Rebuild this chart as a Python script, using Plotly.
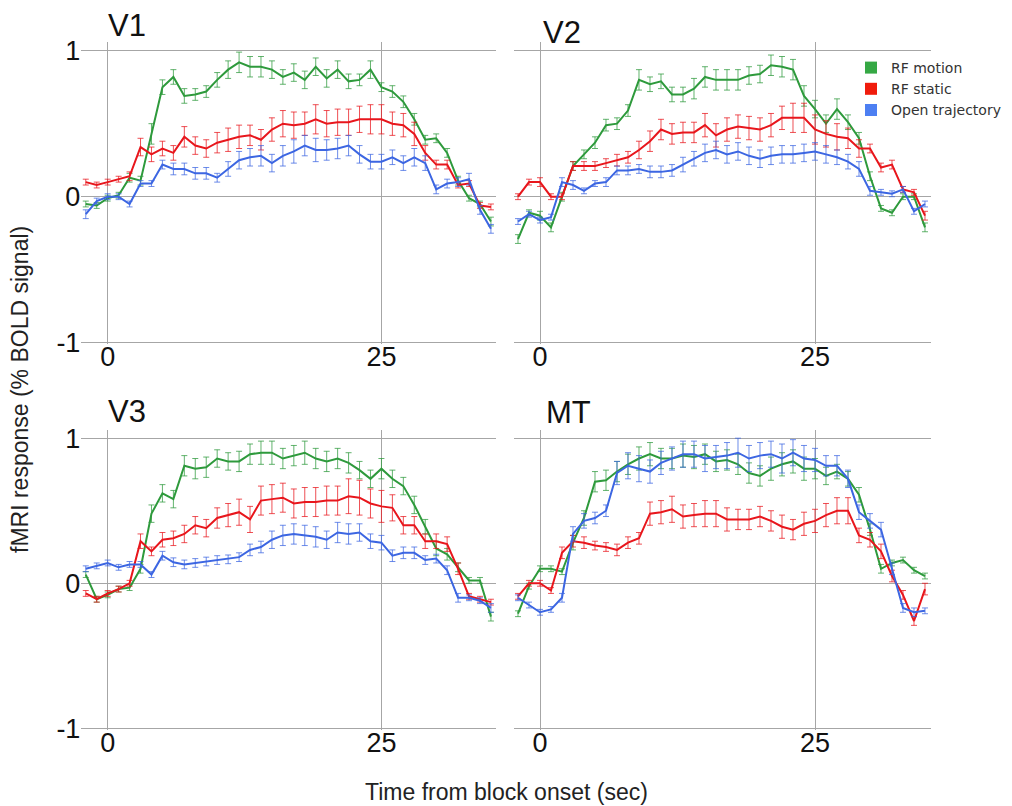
import plotly.graph_objects as go

# ---------------- data ----------------
time_s = list(range(-2, 36))  # seconds from block onset

panels = ["V1", "V2", "V3", "MT"]
series_names = ["RF motion", "RF static", "Open trajectory"]

v1_motion = [-0.05, -0.06, -0.01, 0.01, 0.13, 0.11, 0.43, 0.75, 0.82, 0.69, 0.70, 0.72, 0.80, 0.87, 0.92, 0.89, 0.89, 0.87, 0.82, 0.85,
             0.80, 0.89, 0.81, 0.87, 0.79, 0.80, 0.87, 0.75, 0.72, 0.65, 0.53, 0.39, 0.40, 0.30, 0.11, -0.01, -0.05, -0.17]
v1_static = [0.10, 0.08, 0.10, 0.12, 0.14, 0.34, 0.29, 0.33, 0.30, 0.41, 0.35, 0.33, 0.37, 0.39, 0.41, 0.42, 0.39, 0.46, 0.50, 0.49,
             0.50, 0.53, 0.50, 0.51, 0.51, 0.53, 0.53, 0.53, 0.50, 0.49, 0.43, 0.30, 0.22, 0.22, 0.08, 0.09, -0.06, -0.07]
v1_open = [-0.12, -0.03, 0.00, 0.00, -0.05, 0.09, 0.09, 0.22, 0.19, 0.19, 0.16, 0.16, 0.13, 0.19, 0.25, 0.27, 0.28, 0.23, 0.28, 0.31,
           0.35, 0.32, 0.32, 0.33, 0.35, 0.29, 0.24, 0.24, 0.27, 0.23, 0.27, 0.23, 0.05, 0.09, 0.10, 0.12, -0.09, -0.22]

v2_motion = [-0.29, -0.11, -0.13, -0.21, 0.00, 0.21, 0.29, 0.37, 0.49, 0.50, 0.59, 0.80, 0.77, 0.79, 0.70, 0.70, 0.74, 0.82, 0.80, 0.80,
             0.80, 0.83, 0.84, 0.90, 0.89, 0.87, 0.69, 0.60, 0.50, 0.60, 0.51, 0.40, 0.14, -0.08, -0.11, 0.00, 0.00, -0.21]
v2_static = [0.00, 0.10, 0.10, 0.00, 0.00, 0.21, 0.21, 0.21, 0.23, 0.25, 0.27, 0.32, 0.38, 0.46, 0.43, 0.44, 0.44, 0.49, 0.42, 0.46,
             0.48, 0.47, 0.46, 0.49, 0.54, 0.54, 0.54, 0.46, 0.43, 0.41, 0.40, 0.33, 0.33, 0.20, 0.22, 0.05, 0.03, -0.13]
v2_open = [-0.17, -0.12, -0.16, -0.14, 0.10, 0.08, 0.04, 0.09, 0.10, 0.18, 0.18, 0.19, 0.17, 0.17, 0.18, 0.22, 0.26, 0.30, 0.32, 0.29,
           0.31, 0.28, 0.26, 0.28, 0.29, 0.29, 0.30, 0.31, 0.29, 0.27, 0.24, 0.19, 0.04, 0.03, 0.02, 0.05, -0.10, -0.05]

v3_motion = [0.06, -0.11, -0.08, -0.04, -0.03, 0.10, 0.48, 0.62, 0.58, 0.81, 0.79, 0.80, 0.86, 0.84, 0.84, 0.89, 0.90, 0.90, 0.86, 0.88,
             0.90, 0.86, 0.84, 0.86, 0.83, 0.78, 0.72, 0.79, 0.72, 0.67, 0.54, 0.39, 0.24, 0.20, 0.11, 0.02, 0.02, -0.23]
v3_static = [-0.07, -0.11, -0.07, -0.04, 0.00, 0.29, 0.22, 0.30, 0.31, 0.34, 0.40, 0.38, 0.45, 0.47, 0.49, 0.44, 0.57, 0.58, 0.59, 0.55,
             0.56, 0.56, 0.57, 0.57, 0.60, 0.59, 0.55, 0.53, 0.52, 0.40, 0.40, 0.29, 0.29, 0.27, 0.10, -0.09, -0.11, -0.13]
v3_open = [0.10, 0.12, 0.14, 0.11, 0.13, 0.13, 0.06, 0.19, 0.145, 0.13, 0.14, 0.15, 0.16, 0.165, 0.18, 0.23, 0.25, 0.30, 0.33, 0.34,
           0.33, 0.32, 0.30, 0.35, 0.34, 0.35, 0.29, 0.28, 0.19, 0.21, 0.21, 0.16, 0.17, 0.09, -0.10, -0.10, -0.12, -0.17]

mt_motion = [-0.21, -0.02, 0.10, 0.10, 0.08, 0.28, 0.45, 0.70, 0.71, 0.77, 0.82, 0.86, 0.89, 0.86, 0.86, 0.88, 0.87, 0.89, 0.84, 0.85,
             0.82, 0.76, 0.74, 0.79, 0.82, 0.84, 0.79, 0.79, 0.74, 0.77, 0.72, 0.61, 0.37, 0.10, 0.14, 0.16, 0.09, 0.05]
mt_static = [-0.09, 0.00, 0.00, -0.05, 0.21, 0.29, 0.28, 0.26, 0.25, 0.23, 0.28, 0.31, 0.48, 0.49, 0.51, 0.46, 0.47, 0.48, 0.48, 0.44,
             0.44, 0.44, 0.46, 0.43, 0.39, 0.37, 0.41, 0.43, 0.47, 0.50, 0.50, 0.33, 0.30, 0.22, 0.05, -0.08, -0.26, -0.04]
mt_open = [-0.10, -0.15, -0.20, -0.18, -0.10, 0.34, 0.43, 0.45, 0.50, 0.76, 0.81, 0.79, 0.77, 0.83, 0.86, 0.89, 0.89, 0.86, 0.87, 0.88,
           0.90, 0.86, 0.88, 0.89, 0.86, 0.90, 0.86, 0.85, 0.81, 0.81, 0.72, 0.49, 0.43, 0.37, 0.10, -0.17, -0.20, -0.19]

# error bar half-lengths (SEM)
v1_motion_err = [0.02, 0.02, 0.02, 0.02, 0.03, 0.03, 0.07, 0.05, 0.05, 0.05, 0.04, 0.04, 0.05, 0.06, 0.07, 0.07, 0.07, 0.06, 0.05, 0.06,
                 0.06, 0.06, 0.06, 0.06, 0.05, 0.04, 0.06, 0.03, 0.04, 0.04, 0.04, 0.03, 0.03, 0.03, 0.03, 0.02, 0.02, 0.03]
v1_static_err = [0.02, 0.02, 0.02, 0.02, 0.03, 0.06, 0.05, 0.05, 0.05, 0.07, 0.06, 0.06, 0.07, 0.08, 0.08, 0.07, 0.07, 0.08, 0.09, 0.09,
                 0.08, 0.10, 0.09, 0.09, 0.09, 0.09, 0.10, 0.10, 0.08, 0.08, 0.08, 0.05, 0.03, 0.03, 0.02, 0.02, 0.02, 0.02]
v1_open_err = [0.03, 0.02, 0.02, 0.02, 0.02, 0.02, 0.02, 0.03, 0.04, 0.04, 0.04, 0.04, 0.03, 0.05, 0.06, 0.06, 0.07, 0.06, 0.07, 0.08,
               0.07, 0.08, 0.07, 0.07, 0.07, 0.06, 0.05, 0.05, 0.05, 0.05, 0.06, 0.05, 0.03, 0.03, 0.03, 0.04, 0.03, 0.03]
v2_motion_err = [0.03, 0.02, 0.03, 0.03, 0.03, 0.03, 0.03, 0.04, 0.04, 0.04, 0.04, 0.07, 0.05, 0.05, 0.05, 0.05, 0.07, 0.07, 0.07, 0.07,
                 0.07, 0.06, 0.06, 0.07, 0.07, 0.07, 0.07, 0.06, 0.06, 0.07, 0.05, 0.04, 0.03, 0.02, 0.02, 0.02, 0.02, 0.03]
v2_static_err = [0.02, 0.02, 0.03, 0.02, 0.02, 0.03, 0.03, 0.03, 0.03, 0.04, 0.04, 0.06, 0.07, 0.07, 0.07, 0.07, 0.07, 0.08, 0.08, 0.08,
                 0.08, 0.08, 0.08, 0.08, 0.08, 0.10, 0.10, 0.10, 0.09, 0.09, 0.07, 0.06, 0.03, 0.03, 0.03, 0.02, 0.02, 0.03]
v2_open_err = [0.02, 0.02, 0.02, 0.02, 0.03, 0.03, 0.02, 0.02, 0.03, 0.03, 0.03, 0.03, 0.04, 0.04, 0.04, 0.05, 0.05, 0.06, 0.06, 0.06,
               0.06, 0.06, 0.06, 0.06, 0.06, 0.06, 0.06, 0.06, 0.06, 0.05, 0.05, 0.05, 0.03, 0.02, 0.02, 0.02, 0.02, 0.02]
v3_motion_err = [0.02, 0.02, 0.02, 0.02, 0.02, 0.03, 0.06, 0.06, 0.06, 0.07, 0.07, 0.07, 0.06, 0.06, 0.07, 0.07, 0.08, 0.08, 0.07, 0.07,
                 0.08, 0.07, 0.07, 0.07, 0.07, 0.06, 0.06, 0.07, 0.06, 0.06, 0.06, 0.05, 0.05, 0.04, 0.03, 0.02, 0.02, 0.03]
v3_static_err = [0.02, 0.02, 0.02, 0.02, 0.02, 0.05, 0.03, 0.05, 0.05, 0.06, 0.06, 0.06, 0.07, 0.08, 0.09, 0.09, 0.10, 0.10, 0.10, 0.10,
                 0.10, 0.10, 0.10, 0.10, 0.12, 0.12, 0.10, 0.11, 0.09, 0.06, 0.06, 0.05, 0.05, 0.05, 0.04, 0.02, 0.02, 0.02]
v3_open_err = [0.02, 0.02, 0.02, 0.02, 0.02, 0.02, 0.02, 0.03, 0.03, 0.03, 0.03, 0.03, 0.03, 0.03, 0.03, 0.04, 0.04, 0.06, 0.07, 0.07,
               0.07, 0.07, 0.06, 0.07, 0.07, 0.06, 0.05, 0.05, 0.04, 0.04, 0.04, 0.03, 0.03, 0.03, 0.03, 0.02, 0.02, 0.03]
mt_motion_err = [0.02, 0.02, 0.02, 0.02, 0.02, 0.05, 0.05, 0.07, 0.07, 0.07, 0.07, 0.08, 0.08, 0.07, 0.07, 0.08, 0.08, 0.07, 0.07, 0.07,
                 0.07, 0.07, 0.07, 0.08, 0.08, 0.08, 0.08, 0.07, 0.06, 0.05, 0.05, 0.05, 0.04, 0.03, 0.02, 0.02, 0.02, 0.02]
mt_static_err = [0.02, 0.02, 0.02, 0.02, 0.04, 0.04, 0.04, 0.03, 0.03, 0.04, 0.04, 0.04, 0.08, 0.08, 0.09, 0.08, 0.08, 0.09, 0.09, 0.08,
                 0.07, 0.07, 0.07, 0.07, 0.08, 0.07, 0.08, 0.08, 0.08, 0.09, 0.09, 0.05, 0.05, 0.05, 0.04, 0.03, 0.03, 0.04]
mt_open_err = [0.02, 0.02, 0.02, 0.02, 0.03, 0.05, 0.05, 0.04, 0.04, 0.08, 0.09, 0.09, 0.08, 0.08, 0.08, 0.09, 0.09, 0.09, 0.08, 0.09,
               0.10, 0.09, 0.09, 0.09, 0.10, 0.09, 0.09, 0.08, 0.07, 0.07, 0.06, 0.05, 0.05, 0.05, 0.04, 0.03, 0.03, 0.02]

x_ticks = [0, 25]
y_ticks = [-1, 0, 1]

panel_data = {
    "V1": [(v1_motion, v1_motion_err), (v1_static, v1_static_err), (v1_open, v1_open_err)],
    "V2": [(v2_motion, v2_motion_err), (v2_static, v2_static_err), (v2_open, v2_open_err)],
    "V3": [(v3_motion, v3_motion_err), (v3_static, v3_static_err), (v3_open, v3_open_err)],
    "MT": [(mt_motion, mt_motion_err), (mt_static, mt_static_err), (mt_open, mt_open_err)],
}

# ---------------- style ----------------
W, H = 1012, 806
line_colors = ["#2e9a3c", "#e8161c", "#3c66e2"]
err_colors = ["rgba(46,154,60,0.75)", "rgba(232,22,28,0.75)", "rgba(60,102,226,0.75)"]
legend_colors = ["#35a844", "#f01c0c", "#4d7ff2"]
label_font = "Liberation Sans, Arial, sans-serif"
grid_col = "#a6a6a6"

# panel pixel boxes: (left, right, top, bottom)
boxes = {
    "V1": (81.4, 496.4, 41.9, 344.2),
    "V2": (513.6, 930.5, 41.9, 344.2),
    "V3": (81.4, 496.4, 429.5, 729.8),
    "MT": (513.6, 930.5, 429.5, 729.8),
}
title_pos = {"V1": (127, 25), "V2": (562, 32), "V3": (127, 411), "MT": (568, 412)}

fig = go.Figure()
layout = dict(
    width=W, height=H,
    margin=dict(l=0, r=0, t=0, b=0),
    paper_bgcolor="white", plot_bgcolor="white",
    template="none",
    showlegend=True,
    legend=dict(x=851 / W, y=1 - 52 / H, xanchor="left", yanchor="top",
                font=dict(family="DejaVu Sans", size=14, color="#333333"),
                bgcolor="rgba(0,0,0,0)", tracegroupgap=0, itemwidth=30),
    annotations=[],
)

for i, p in enumerate(panels):
    sfx = "" if i == 0 else str(i + 1)
    l, r, t, b = boxes[p]
    layout["xaxis" + sfx] = dict(
        domain=[l / W, r / W], range=[-2.4, 35.5], anchor="y" + sfx,
        tickvals=x_ticks, ticktext=[str(v) for v in x_ticks],
        showgrid=True, gridcolor=grid_col, gridwidth=1, zeroline=False, showline=False,
        ticks="", ticklabelstandoff=-6,
        tickfont=dict(family=label_font, size=27, color="#111111"), automargin=False,
    )
    layout["yaxis" + sfx] = dict(
        domain=[1 - b / H, 1 - t / H], range=[-1.01, 1.06], anchor="x" + sfx,
        tickvals=y_ticks, ticktext=[str(v) for v in y_ticks],
        showgrid=True, gridcolor=grid_col, gridwidth=1, zeroline=False, showline=False,
        ticks="", ticklabelstandoff=0,
        showticklabels=(p in ("V1", "V3")),
        tickfont=dict(family=label_font, size=27, color="#111111"), automargin=False,
    )
    for k, (vals, errs) in enumerate(panel_data[p]):
        fig.add_trace(go.Scatter(
            x=time_s, y=vals, mode="lines", xaxis="x" + sfx, yaxis="y" + sfx,
            line=dict(color=line_colors[k], width=2),
            error_y=dict(type="data", array=errs, visible=True, thickness=1, width=3, color=err_colors[k]),
            showlegend=False, name=series_names[k],
        ))
    tx, ty = title_pos[p]
    layout["annotations"].append(dict(
        text=p, x=tx / W, y=1 - ty / H, xref="paper", yref="paper",
        showarrow=False, xanchor="center", yanchor="middle",
        font=dict(family=label_font, size=31, color="#111111"),
    ))

# legend entries (square swatches)
for k, nm in enumerate(series_names):
    fig.add_trace(go.Scatter(
        x=[None], y=[None], mode="markers", name=nm, xaxis="x2", yaxis="y2",
        marker=dict(symbol="square", size=12, color=legend_colors[k]),
        showlegend=True,
    ))

layout["annotations"].append(dict(
    text="Time from block onset (sec)", x=506 / W, y=1 - 792 / H, xref="paper", yref="paper",
    showarrow=False, xanchor="center", yanchor="middle",
    font=dict(family=label_font, size=23, color="#222222"),
))
layout["annotations"].append(dict(
    text="fMRI response (% BOLD signal)", x=20 / W, y=1 - 390 / H, xref="paper", yref="paper",
    showarrow=False, xanchor="center", yanchor="middle", textangle=-90,
    font=dict(family=label_font, size=23, color="#222222"),
))

fig.update_layout(**layout)
fig.write_html("out.html")
